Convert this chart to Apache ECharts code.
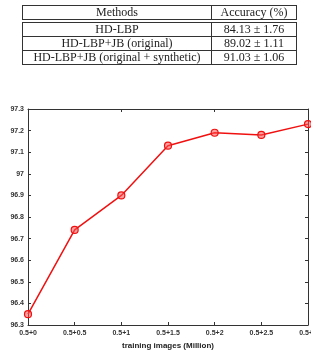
<!DOCTYPE html>
<html><head><meta charset="utf-8">
<script src="https://cdn.jsdelivr.net/npm/echarts@6/dist/echarts.min.js"></script>
<style>
html,body{margin:0;padding:0;background:#fff;width:311px;height:351px;overflow:hidden;}
#tbl{position:absolute;left:22px;top:5px;width:275px;font-family:"Liberation Serif","DejaVu Serif",serif;font-size:12px;color:#222;}
#tbl .row{display:flex;height:13px;line-height:13px;border-left:1px solid #333;border-right:1px solid #333;border-bottom:1px solid #333;}
#tbl .row div{text-align:center;white-space:nowrap;}
#tbl .c1{width:188px;border-right:1px solid #333;}
#tbl .c2{flex:1;}
#tbl .hdr{border-top:1px solid #333;}
#tbl .first{border-top:1px solid #333;margin-top:2px;}
#chart{position:absolute;left:0;top:0;width:311px;height:351px;}
</style></head>
<body>
<div id="chart"></div>
<div id="tbl"></div>
<script>
const tableHeader = ["Methods", "Accuracy (%)"];
const methods = ["HD-LBP", "HD-LBP+JB (original)", "HD-LBP+JB (original + synthetic)"];
const accuracies = ["84.13 \u00b1 1.76", "89.02 \u00b1 1.11", "91.03 \u00b1 1.06"];

const categories = ["0.5+0", "0.5+0.5", "0.5+1", "0.5+1.5", "0.5+2", "0.5+2.5", "0.5+3"];
const lfwAccuracy = [96.35, 96.74, 96.90, 97.13, 97.19, 97.18, 97.23];
const yTicks = [96.3, 96.4, 96.5, 96.6, 96.7, 96.8, 96.9, 97, 97.1, 97.2, 97.3];

// table
const tbl = document.getElementById('tbl');
let html = '<div class="row hdr"><div class="c1">' + tableHeader[0] + '</div><div class="c2">' + tableHeader[1] + '</div></div>';
methods.forEach((m, i) => {
  html += '<div class="row' + (i === 0 ? ' first' : '') + '"><div class="c1">' + m + '</div><div class="c2">' + accuracies[i] + '</div></div>';
});
tbl.innerHTML = html;

const chart = echarts.init(document.getElementById('chart'), null, {renderer: 'canvas'});
const axisLine = {show: true, lineStyle: {color: '#333', width: 1}};
const labelFont = {fontFamily: 'Liberation Sans, Arial, sans-serif', fontWeight: 'bold', fontSize: 7, color: '#333'};
chart.setOption({
  animation: false,
  backgroundColor: 'transparent',
  grid: {left: 28, right: 3, top: 109, bottom: 26, containLabel: false, outerBoundsMode: 'none'},
  xAxis: [{
    type: 'category', data: categories, boundaryGap: false,
    axisLine: axisLine, axisTick: {show: true, inside: true, length: 3, alignWithLabel: true, lineStyle: {color: '#333'}},
    axisLabel: Object.assign({margin: 5, interval: 0, hideOverlap: false}, labelFont),
    splitLine: {show: false},
    name: 'training images (Million)', nameLocation: 'middle', nameGap: 17,
    nameTextStyle: {fontFamily: 'Liberation Sans, Arial, sans-serif', fontWeight: 'bold', fontSize: 8, color: '#222'}
  }, {
    type: 'category', data: categories, boundaryGap: false, position: 'top',
    axisLine: axisLine, axisTick: {show: true, inside: true, length: 3, lineStyle: {color: '#333'}},
    axisLabel: {show: false}, splitLine: {show: false}
  }],
  yAxis: [{
    type: 'value', min: 96.3, max: 97.3, interval: 0.1,
    axisLine: axisLine, axisTick: {show: true, inside: true, length: 3, lineStyle: {color: '#333'}},
    axisLabel: Object.assign({margin: 4, formatter: v => String(Math.round(v * 10) / 10)}, labelFont),
    splitLine: {show: false},
    name: 'LFW accuracy (%)', nameLocation: 'middle', nameGap: 22, nameRotate: 90,
    nameTextStyle: {fontFamily: 'Liberation Sans, Arial, sans-serif', fontWeight: 'bold', fontSize: 8, color: '#222'}
  }, {
    type: 'value', min: 96.3, max: 97.3, interval: 0.1, position: 'right',
    axisLine: axisLine, axisTick: {show: true, inside: true, length: 3, lineStyle: {color: '#333'}},
    axisLabel: {show: false}, splitLine: {show: false}
  }],
  series: [{
    type: 'line', data: lfwAccuracy, xAxisIndex: 0, yAxisIndex: 0,
    symbol: 'circle', symbolSize: 7, showAllSymbol: true,
    lineStyle: {color: '#f01010', width: 1.5},
    itemStyle: {color: 'rgba(255,80,80,0.55)', borderColor: '#f01010', borderWidth: 1.2},
    clip: false
  }]
});
</script>
</body></html>
